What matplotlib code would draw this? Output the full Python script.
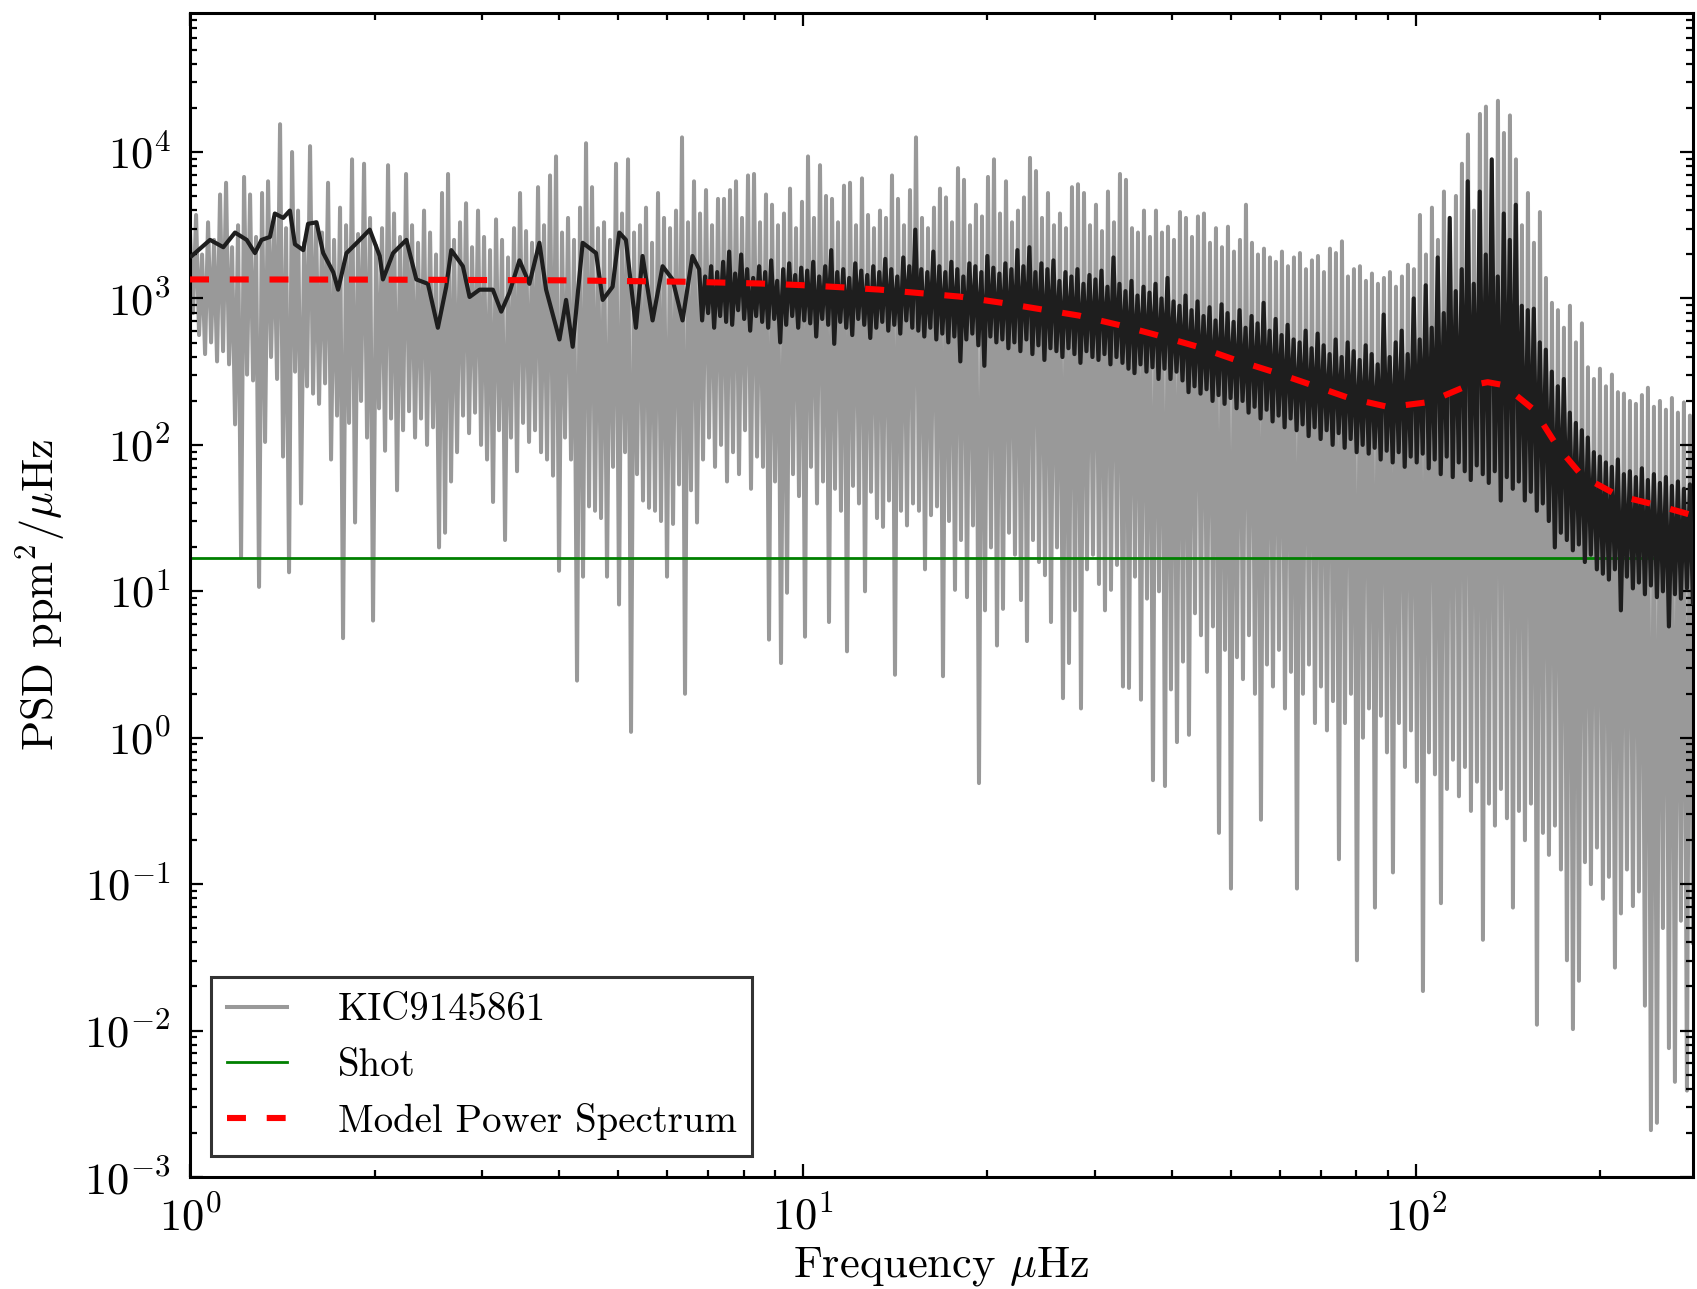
import numpy as np
import matplotlib
matplotlib.use("Agg")
import matplotlib.pyplot as plt

# ---------------- data ----------------
# Raw spectrum (grey): alternating spike tops / spike bottoms, log10(PSD)
gray_top_log10 = [
    3.45, 3.57, 3.30, 3.52, 3.40, 3.71, 3.79, 3.35, 3.50, 3.83,
    3.71, 3.42, 3.72, 3.80, 3.55, 4.19, 3.48, 4.00, 3.60, 3.38,
    4.04, 3.52, 3.45, 3.79, 3.40, 3.62, 3.50, 3.95, 3.44, 3.92,
    3.55, 3.36, 3.48, 3.91, 3.58, 3.42, 3.85, 3.50, 3.38, 3.60,
    3.45, 3.30, 3.72, 3.85, 3.40, 3.52, 3.65, 3.35, 3.60, 3.42,
    3.33, 3.54, 3.40, 3.28, 3.48, 3.72, 3.46, 3.38, 3.76, 3.50,
    3.84, 3.97, 3.45, 3.55, 3.40, 3.62, 4.06, 3.76, 3.48, 3.52,
    3.40, 3.92, 3.58, 3.95, 3.45, 3.50, 3.62, 3.38, 3.72, 3.55,
    3.48, 3.60, 4.10, 3.52, 3.80, 3.58, 3.74, 3.50, 3.68, 3.68,
    3.74, 3.80, 3.55, 3.84, 3.85, 3.52, 3.71, 3.64, 3.50, 3.58,
    3.75, 3.48, 3.66, 3.97, 3.55, 3.91, 3.70, 3.68, 3.52, 3.77,
    3.79, 3.50, 3.82, 3.57, 3.48, 3.60, 3.55, 3.84, 3.68, 3.50,
    3.74, 4.10, 3.55, 3.48, 3.62, 3.75, 3.69, 3.52, 3.89, 3.81,
    3.50, 3.64, 3.56, 3.83, 3.95, 3.58, 3.80, 3.52, 3.60, 3.69,
    3.96, 3.87, 3.55, 3.72, 3.50, 3.58, 3.48, 3.76, 3.78, 3.72,
    3.50, 3.64, 3.46, 3.73, 3.52, 3.85, 3.81, 3.48, 3.45, 3.60,
    3.42, 3.60, 3.45, 3.49, 3.40, 3.59, 3.55, 3.42, 3.56, 3.58,
    3.38, 3.48, 3.35, 3.49, 3.32, 3.40, 3.64, 3.38, 3.30, 3.34,
    3.28, 3.25, 3.32, 3.22, 3.28, 3.31, 3.20, 3.26, 3.29, 3.18,
    3.34, 3.31, 3.39, 3.15, 3.20, 3.22, 3.12, 3.17, 3.10, 3.14,
    3.18, 3.08, 3.15, 3.23, 3.20, 3.57, 3.30, 3.62, 3.40, 3.73,
    3.45, 3.70, 3.92, 4.12, 3.60, 4.26, 4.31, 3.75, 4.35, 4.13,
    4.25, 3.95, 3.50, 3.72, 3.38, 3.59, 3.14, 2.97, 2.92, 2.80,
    2.95, 2.70, 2.83, 2.53, 2.45, 2.52, 2.40, 2.48, 2.36, 2.35,
    2.30, 2.28, 2.34, 2.39, 2.26, 2.30, 2.24, 2.32, 2.22, 2.29, 2.20,
]
gray_bottom_log10 = [
    2.90, 2.75, 2.62, 2.70, 2.57, 2.64, 2.55, 2.14, 1.23, 2.48,
    2.44, 1.03, 2.02, 2.60, 2.45, 1.92, 1.13, 2.50, 1.60, 2.40,
    2.35, 2.28, 2.42, 1.90, 2.20, 0.68, 2.15, 1.47, 2.30, 2.05,
    0.80, 2.25, 1.96, 2.18, 1.69, 2.10, 2.23, 2.05, 2.18, 2.00,
    2.12, 1.30, 1.40, 1.75, 1.95, 2.20, 2.08, 2.22, 2.00, 1.90,
    1.61, 2.10, 1.35, 2.05, 1.82, 2.15, 2.02, 2.10, 1.95, 1.90,
    1.79, 1.14, 2.05, 1.90, 0.39, 1.10, 1.58, 1.55, 1.50, 1.10,
    1.85, 0.91, 1.95, 0.04, 1.80, 1.62, 1.57, 1.55, 1.48, 1.10,
    1.46, 1.73, 0.30, 1.69, 1.47, 1.90, 2.05, 1.85, 2.00, 1.75,
    1.95, 1.80, 2.10, 1.70, 1.92, 1.85, 0.67, 1.75, 0.51, 0.99,
    1.80, 1.65, 0.69, 1.85, 1.60, 1.75, 0.79, 1.70, 1.55, 0.59,
    1.72, 1.60, 1.00, 1.68, 1.50, 1.44, 1.62, 0.43, 1.55, 1.45,
    1.60, 1.55, 1.15, 1.52, 1.58, 0.42, 1.48, 1.01, 1.35, 0.96,
    1.45, -0.31, 0.87, 1.30, 0.63, 0.88, 1.40, 1.25, 0.94, 0.66,
    1.35, 1.20, 1.11, 0.79, 1.30, 0.27, 0.51, 0.87, 0.20, 1.15,
    1.25, 1.05, 0.87, 1.01, 1.18, 0.35, 0.34, 1.10, 0.26, 0.95,
    -0.29, 1.00, -0.33, 0.33, -0.03, 0.52, 0.02, 0.85, 0.70, 0.45,
    0.76, -0.65, 0.60, -1.03, 0.55, 0.40, 0.70, 0.30, -0.56, 0.50,
    0.35, 0.60, 0.20, 0.45, -1.03, 0.30, 0.50, 0.10, 0.35, 0.05,
    0.25, -0.83, 0.10, 0.30, -1.52, 0.00, 0.20, -1.16, 0.15, -0.10,
    -0.92, 0.10, -0.20, 0.05, -0.30, -1.73, -0.10, -0.25, -1.13, -0.35,
    -0.15, -0.40, -0.20, -0.50, -0.30, -1.38, -0.45, -0.60, -0.35, -0.55,
    -1.16, -0.50, -0.70, -0.45, -1.96, -0.65, -0.80, -0.60, -0.90, -1.52,
    -1.99, -1.66, -0.85, -1.00, -0.75, -1.10, -0.95, -1.57, -1.20, -0.90,
    -1.15, -1.05, -1.83, -2.68, -2.63, -1.30, -2.12, -2.35, -1.25, -2.41, -1.40,
]
gray_freq_range = (1.0, 283.2)

# Smoothed spectrum (black), low-frequency part: frequency (uHz), log10(PSD)
smooth_low_freq = [
    1.006, 1.038, 1.078, 1.133, 1.184, 1.237, 1.276, 1.308, 1.350, 1.375,
    1.419, 1.455, 1.483, 1.530, 1.558, 1.608, 1.649, 1.712, 1.744, 1.800,
    1.892, 1.964, 2.039, 2.064, 2.144, 2.254, 2.340, 2.444, 2.537, 2.618,
    2.668, 2.787, 2.858, 2.967, 3.119, 3.219, 3.320, 3.447, 3.578, 3.715,
    3.810, 4.006, 4.107, 4.210, 4.371, 4.596, 4.713, 4.891, 5.015, 5.142,
    5.339, 5.474, 5.684, 5.902, 6.127, 6.361, 6.602,
]
smooth_low_log10 = [
    3.29, 3.34, 3.40, 3.35, 3.45, 3.40, 3.31, 3.40, 3.42, 3.58,
    3.55, 3.60, 3.37, 3.33, 3.51, 3.52, 3.31, 3.18, 3.06, 3.31,
    3.40, 3.47, 3.29, 3.13, 3.31, 3.40, 3.13, 3.10, 2.80, 3.08,
    3.33, 3.22, 3.01, 3.06, 3.06, 2.91, 3.04, 3.26, 3.10, 3.38,
    3.06, 2.72, 2.99, 2.67, 3.38, 3.31, 2.99, 3.08, 3.45, 3.40,
    2.80, 3.29, 2.85, 3.22, 3.13, 2.85, 3.29,
]
# Smoothed spectrum (black), dense part: alternating band top / bottom
smooth_top_log10 = [
    3.20, 3.15, 3.22, 3.18, 3.25, 3.32, 3.17, 3.30, 3.20, 3.14,
    3.22, 3.18, 3.26, 3.12, 3.20, 3.24, 3.16, 3.21, 3.19, 3.25,
    3.15, 3.22, 3.33, 3.18, 3.20, 3.14, 3.24, 3.19, 3.16, 3.22,
    3.18, 3.27, 3.20, 3.15, 3.28, 3.22, 3.47, 3.20, 3.18, 3.32,
    3.22, 3.18, 3.25, 3.20, 3.15, 3.24, 3.22, 3.18, 3.29, 3.21,
    3.17, 3.24, 3.20, 3.33, 3.22, 3.35, 3.18, 3.24, 3.20, 3.26,
    3.12, 3.18, 3.15, 3.20, 3.10, 3.16, 3.13, 3.19, 3.08, 3.28,
    3.10, 3.05, 3.12, 3.02, 3.08, 3.04, 3.10, 3.00, 3.14, 2.98,
    2.95, 3.02, 2.92, 2.98, 2.88, 2.94, 2.85, 2.96, 2.90, 2.84,
    2.92, 2.80, 2.88, 2.83, 2.97, 2.78, 2.86, 2.75, 2.82, 2.72,
    2.70, 2.78, 2.66, 2.76, 2.68, 2.62, 2.72, 2.60, 2.70, 2.64,
    2.58, 2.68, 2.62, 2.55, 2.89, 2.60, 2.70, 2.78, 2.62, 3.00,
    2.72, 3.09, 2.80, 3.28, 2.90, 3.55, 3.05, 3.20, 3.80, 3.10,
    3.73, 3.30, 3.95, 3.15, 3.58, 3.40, 3.64, 2.95, 2.92, 2.93,
    2.70, 2.65, 2.50, 2.40, 2.45, 2.22, 2.15, 2.10, 2.05, 1.95,
    1.92, 1.88, 1.85, 1.90, 1.80, 1.82, 1.78, 1.84, 1.76, 1.80,
    1.74, 1.78, 1.72, 1.75, 1.70, 1.73,
]
smooth_bottom_log10 = [
    2.85, 2.90, 2.80, 2.88, 2.84, 2.82, 2.92, 2.86, 2.78, 2.88,
    2.84, 2.80, 2.86, 2.70, 2.82, 2.88, 2.80, 2.85, 2.83, 2.74,
    2.86, 2.82, 2.69, 2.84, 2.80, 2.75, 2.86, 2.82, 2.73, 2.80,
    2.84, 2.78, 2.82, 2.76, 2.85, 2.80, 2.78, 2.74, 2.80, 2.72,
    2.76, 2.70, 2.74, 2.57, 2.72, 2.76, 2.68, 2.54, 2.74, 2.70,
    2.72, 2.66, 2.70, 2.64, 2.72, 2.62, 2.68, 2.58, 2.66, 2.64,
    2.60, 2.66, 2.62, 2.56, 2.64, 2.60, 2.58, 2.62, 2.55, 2.60,
    2.56, 2.52, 2.49, 2.55, 2.50, 2.53, 2.45, 2.52, 2.45, 2.50,
    2.44, 2.36, 2.40, 2.35, 2.38, 2.30, 2.34, 2.28, 2.32, 2.25,
    2.30, 2.22, 2.26, 2.18, 2.24, 2.16, 2.20, 2.12, 2.18, 2.10,
    2.14, 2.06, 2.12, 2.04, 2.10, 2.00, 2.08, 1.98, 2.04, 1.95,
    2.00, 1.94, 1.98, 1.90, 1.96, 1.88, 1.95, 1.85, 1.92, 1.88,
    1.94, 1.84, 1.90, 1.80, 1.92, 1.78, 1.88, 1.82, 1.76, 1.86,
    1.80, 1.74, 1.82, 1.62, 1.78, 1.70, 1.75, 1.62, 1.68, 1.55,
    1.60, 1.48, 1.30, 1.40, 1.35, 1.28, 1.32, 1.20, 1.25, 1.15,
    1.12, 1.08, 1.15, 0.87, 1.10, 1.02, 1.06, 0.98, 1.04, 0.96,
    1.00, 0.76, 0.98, 0.95, 1.02, 0.92,
]
smooth_dense_range = (6.77, 283.2)

# Model power spectrum (red dashed)
model_freq = [1.0, 2.0, 4.0, 6.5, 8.5, 9.85, 11.4, 13.3, 15.5, 18.0, 21.0,
              24.3, 28.2, 32.8, 37.8, 44.0, 50.9, 58.7, 67.7, 77.8, 90.4,
              105.0, 121.0, 131.0, 139.0, 156.0, 170.0, 187.0, 214.0, 247.0, 283.2]
model_psd = [1349, 1345, 1330, 1300, 1265, 1235, 1196, 1150, 1088, 1030, 937,
             847, 764, 658, 562, 469, 379, 314, 256, 209, 181,
             196, 252, 268, 256, 173, 98, 61, 45, 38.8, 33]

shot_level = 16.9

labels = ["KIC9145861", "Shot", "Model Power Spectrum"]

# ---------------- style ----------------
plt.rcParams.update({
    "font.family": "cmr10",
    "mathtext.fontset": "cm",
    "axes.formatter.use_mathtext": True,
    "font.size": 16,
    "xtick.direction": "in",
    "ytick.direction": "in",
    "xtick.top": True,
    "ytick.right": True,
    "xtick.major.size": 4.8,
    "ytick.major.size": 4.8,
    "xtick.minor.size": 2.5,
    "ytick.minor.size": 2.5,
    "xtick.major.width": 0.8,
    "ytick.major.width": 0.8,
    "xtick.minor.width": 0.8,
    "ytick.minor.width": 0.8,
    "xtick.major.pad": 7,
    "ytick.major.pad": 7,
    "axes.linewidth": 1.1,
})

fig = plt.figure(figsize=(8.485, 6.445), dpi=200)
ax = fig.add_axes([0.112, 0.0869, 0.8856, 0.903])

# grey raw spectrum
n_g = min(len(gray_top_log10), len(gray_bottom_log10))
g_log = np.empty(2 * n_g)
g_log[0::2] = gray_top_log10[:n_g]
g_log[1::2] = gray_bottom_log10[:n_g]
g_freq = np.geomspace(gray_freq_range[0], gray_freq_range[1], 2 * n_g)
ax.plot(g_freq, 10.0 ** g_log, color="#999999", lw=1.45, label=labels[0], zorder=1)

# shot noise
ax.axhline(shot_level, color="green", lw=1.0, label=labels[1], zorder=2)

# black smoothed spectrum
n_b = min(len(smooth_top_log10), len(smooth_bottom_log10))
b_log = np.empty(2 * n_b)
b_log[0::2] = smooth_top_log10[:n_b]
b_log[1::2] = smooth_bottom_log10[:n_b]
b_freq = np.geomspace(smooth_dense_range[0], smooth_dense_range[1], 2 * n_b)
all_f = np.concatenate([np.array(smooth_low_freq), b_freq])
all_p = np.concatenate([10.0 ** np.array(smooth_low_log10), 10.0 ** b_log])
ax.plot(all_f, all_p, color="#1e1e1e", lw=1.5, zorder=3)

# model
ax.plot(model_freq, model_psd, color="red", lw=2.2, ls="--", dashes=(3.1, 3.4),
        label=labels[2], zorder=4)

ax.set_xscale("log")
ax.set_yscale("log")
ax.set_xlim(1.0, 283.2)
ax.set_ylim(1e-3, 8.9e4)
ax.set_xlabel(r"Frequency $\mu$Hz", fontsize=16, labelpad=2)
ax.set_ylabel(r"PSD ppm$^2$/$\mu$Hz", fontsize=16, labelpad=6)
ax.tick_params(which="both", labelsize=16)

leg = ax.legend(loc="lower left", fontsize=14, frameon=True, fancybox=False,
                handlelength=1.55, handletextpad=1.3, borderpad=0.4,
                labelspacing=0.5, borderaxespad=0.55)
leg.get_frame().set_edgecolor("black")
leg.get_frame().set_linewidth(1.1)

fig.savefig("out.png", dpi=200)
